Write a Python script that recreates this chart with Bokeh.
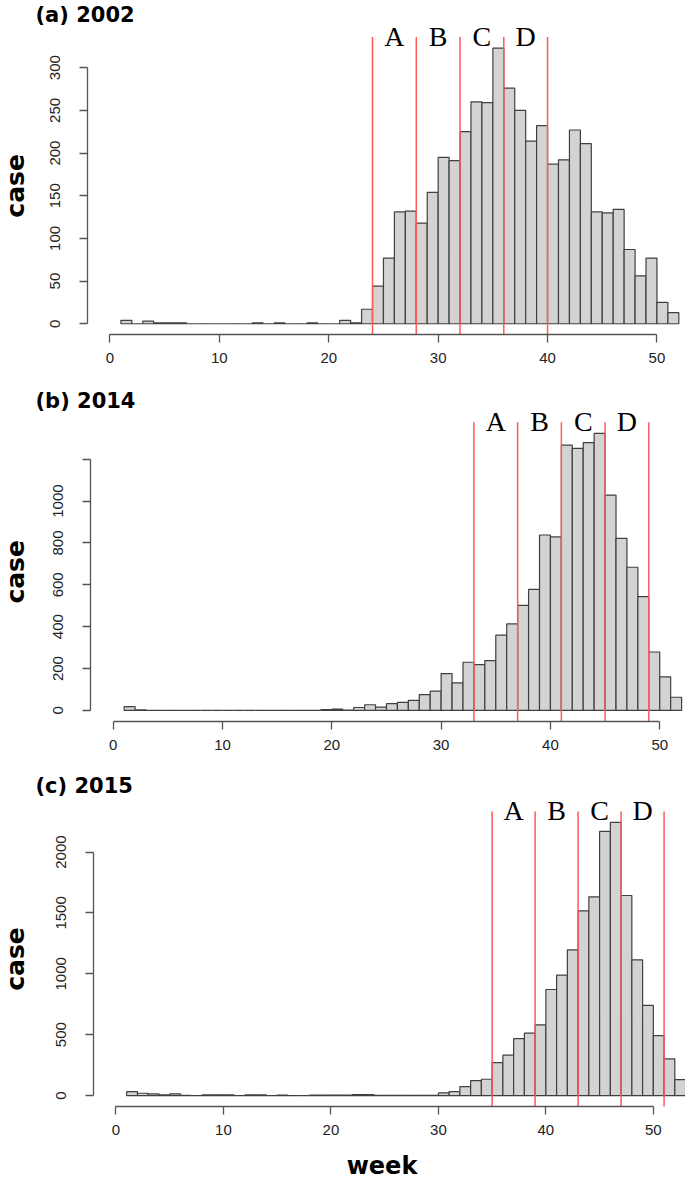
import math
from bokeh.plotting import figure
from bokeh.models import Range1d, FixedTicker, Label, ColumnDataSource
from bokeh.layouts import column
from bokeh.embed import file_html
from bokeh.resources import INLINE

# ---------------- data ----------------
# each bar covers the interval [bin_start, bin_start + 1] on the week axis
bin_start_a = list(range(1, 52))
cases_a = [4, 0, 3, 1, 1, 1, 0, 0, 0, 0, 0, 0, 1, 0, 1, 0, 0, 1, 0, 0,
           4, 1, 17, 44, 77, 131, 132, 118, 154, 195, 191, 225, 260, 259, 323,
           276, 250, 214, 232, 187, 192, 227, 211, 131, 130, 134, 87, 56, 77, 25, 13]
bounds_a = [24, 28, 32, 36, 40]
yticks_a = [0, 50, 100, 150, 200, 250, 300]

bin_start_b = list(range(1, 52))
cases_b = [18, 3, 0, 0, 0, 0, 0, 0, 0, 0, 0, 0, 0, 0, 0, 0, 0, 0,
           4, 6, 2, 14, 27, 16, 32, 38, 48, 75, 92, 176, 132, 230, 219, 238,
           360, 413, 502, 578, 838, 829, 1267, 1252, 1279, 1324, 1029, 822,
           684, 544, 279, 160, 63]
bounds_b = [33, 37, 41, 45, 49]
yticks_b = [0, 200, 400, 600, 800, 1000, 1200]
ylabel_hidden_b = {1200: ""}

bin_start_c = list(range(1, 53))
cases_c = [33, 19, 14, 5, 14, 1, 0, 5, 5, 5, 0, 5, 5, 0, 4, 0, 0, 4, 4, 4,
           4, 8, 8, 2, 2, 2, 2, 2, 2, 22, 33, 74, 123, 134, 271, 332, 468, 512,
           581, 871, 989, 1197, 1517, 1632, 2169, 2243, 1643, 1115, 740, 493, 301, 131]
bounds_c = [35, 39, 43, 47, 51]
yticks_c = [0, 500, 1000, 1500, 2000]

xticks = [0, 10, 20, 30, 40, 50]
phases = ["A", "B", "C", "D"]
titles = ["(a) 2002", "(b) 2014", "(c) 2015"]
y_title = "case"
x_title = "week"

W = 685
BOLD_FONT = "DejaVu Sans"


def make_panel(title, starts, cases, bounds, yticks, nweeks, H, top, ftop, fbot,
               fleft, sx, title_mid, overrides=None, xlabel_mid=None):
    M = max(cases)
    xl = -0.04 * nweeks               # R-style plotting region (4% padding)
    yb, yt = -0.04 * M, 1.04 * M
    ft, fb = ftop - top, fbot - top   # frame edges inside this figure (px)
    sy = (fb - ft) / (yt - yb)
    x_start = xl - fleft / sx
    x_end = x_start + W / sx
    y_top = yt + ft / sy
    y_bottom = yb - (H - fb) / sy

    def X(px):
        return x_start + px / sx

    def Y(py):  # py measured downward from the figure's top (px)
        return y_top - py / sy

    p = figure(width=W, height=H, x_range=Range1d(x_start, x_end),
               y_range=Range1d(y_bottom, y_top),
               output_backend="svg", toolbar_location=None,
               min_border=0, min_border_left=0, min_border_right=0,
               min_border_top=0, min_border_bottom=0,
               background_fill_color="white", border_fill_color="white",
               outline_line_color=None)
    p.grid.visible = False

    src = ColumnDataSource(dict(left=starts, right=[s + 1 for s in starts],
                                top=cases, bottom=[0] * len(cases)))
    p.quad(left="left", right="right", top="top", bottom="bottom", source=src,
           fill_color="#d3d3d3", line_color="#404040", line_width=1.2)

    p.segment(x0=bounds, x1=bounds, y0=[yb] * len(bounds), y1=[yt] * len(bounds),
              line_color="#ff5a5a", line_width=1.5)
    for i, ph in enumerate(phases):
        p.add_layout(Label(x=(bounds[i] + bounds[i + 1]) / 2, y=yt + 1 / sy,
                           text=ph, text_align="center", text_baseline="middle",
                           text_font="Liberation Serif", text_font_size="28px",
                           text_color="black"))

    p.add_layout(Label(x=X(35), y=Y(title_mid - top), text=title,
                       text_align="left", text_baseline="middle",
                       text_font=BOLD_FONT, text_font_style="bold",
                       text_font_size="21px", text_color="black"))
    p.add_layout(Label(x=X(15), y=(yb + yt) / 2, text=y_title, angle=math.pi / 2,
                       text_align="center", text_baseline="middle",
                       text_font=BOLD_FONT, text_font_style="bold",
                       text_font_size="25px", text_color="black"))
    if xlabel_mid is not None:
        p.add_layout(Label(x=X(381.5), y=Y(xlabel_mid - top), text=x_title,
                           text_align="center", text_baseline="middle",
                           text_font=BOLD_FONT, text_font_style="bold",
                           text_font_size="24px", text_color="black"))

    p.xaxis.fixed_location = yb
    p.yaxis.fixed_location = xl
    p.xaxis.ticker = FixedTicker(ticks=xticks)
    p.xaxis.bounds = (xticks[0], xticks[-1])
    p.yaxis.ticker = FixedTicker(ticks=yticks)
    p.yaxis.bounds = (yticks[0], yticks[-1])
    if overrides:
        p.yaxis.major_label_overrides = overrides
    for ax in (p.xaxis[0], p.yaxis[0]):
        ax.axis_line_color = "#555555"
        ax.axis_line_width = 1.3
        ax.major_tick_line_color = "#555555"
        ax.major_tick_line_width = 1.3
        ax.major_tick_out = 8
        ax.major_tick_in = 0
        ax.minor_tick_line_color = None
        ax.major_label_text_font = "Liberation Sans"
        ax.major_label_text_font_size = "15px"
        ax.major_label_text_color = "#222222"
    p.xaxis.major_label_standoff = 10
    p.yaxis.major_label_standoff = 19
    p.yaxis.major_label_orientation = "vertical"
    return p


pa = make_panel(titles[0], bin_start_a, cases_a, bounds_a, yticks_a, 52,
                H=382, top=0, ftop=36.5, fbot=334.3, fleft=86.7, sx=10.94,
                title_mid=14.2)
pb = make_panel(titles[1], bin_start_b, cases_b, bounds_b, yticks_b, 52,
                H=390, top=382, ftop=421.7, fbot=721.0, fleft=90.0, sx=10.93,
                title_mid=400.5, overrides=ylabel_hidden_b)
pc = make_panel(titles[2], bin_start_c, cases_c, bounds_c, yticks_c, 53,
                H=408, top=772, ftop=811.0, fbot=1106.0, fleft=92.7, sx=10.747,
                title_mid=785.0, xlabel_mid=1165.7)

layout = column(pa, pb, pc, spacing=0)
open("out.html", "w").write(file_html(layout, INLINE))
